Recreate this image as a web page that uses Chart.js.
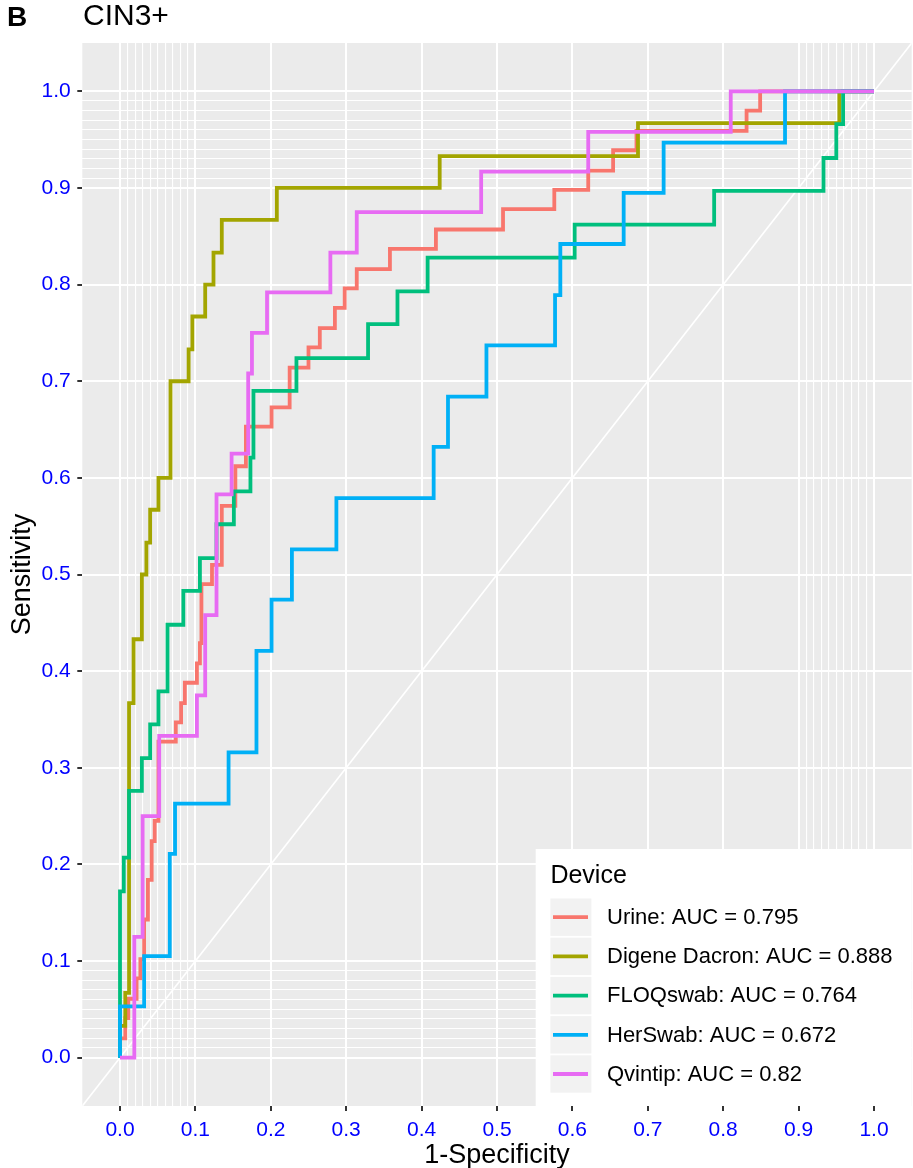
<!DOCTYPE html>
<html>
<head>
<meta charset="utf-8">
<title>CIN3+ ROC</title>
<script src="https://cdn.jsdelivr.net/npm/chart.js@4.4.1/dist/chart.umd.min.js"></script>
<style>
  html, body { margin: 0; padding: 0; background: #fff; }
  #roc { display: block; }
</style>
</head>
<body>
<canvas id="roc" width="913" height="1168"></canvas>
<script>
// axis breaks
const majorTicks = [0, 0.1, 0.2, 0.3, 0.4, 0.5, 0.6, 0.7, 0.8, 0.9, 1.0];
const minorTicks = [0.01, 0.02, 0.03, 0.04, 0.05, 0.06, 0.07, 0.08, 0.09,
                    0.91, 0.92, 0.93, 0.94, 0.95, 0.96, 0.97, 0.98, 0.99];

// legend
const deviceNames = ['Urine', 'Digene Dacron', 'FLOQswab', 'HerSwab', 'Qvintip'];
const aucValues = ['0.795', '0.888', '0.764', '0.672', '0.82'];
const deviceColors = ['#F8766D', '#A3A500', '#00BF7D', '#00B0F6', '#E76BF3'];

// ROC steps: each point = end of a horizontal run (vertical move first)
const urineFpr  = [0, 0.007, 0.011, 0.022, 0.027, 0.032, 0.037, 0.042, 0.046, 0.051, 0.074, 0.081, 0.086, 0.102, 0.106, 0.108, 0.122, 0.135, 0.153, 0.167, 0.201, 0.225, 0.250, 0.265, 0.285, 0.298, 0.314, 0.358, 0.419, 0.508, 0.576, 0.621, 0.654, 0.685, 0.831, 0.849, 1.0];
const urineSens = [0, 0.020, 0.041, 0.061, 0.082, 0.102, 0.143, 0.184, 0.224, 0.245, 0.327, 0.347, 0.367, 0.388, 0.408, 0.429, 0.490, 0.510, 0.571, 0.612, 0.653, 0.673, 0.714, 0.735, 0.755, 0.776, 0.796, 0.816, 0.837, 0.857, 0.878, 0.898, 0.918, 0.939, 0.959, 0.980, 1.0];

const digeneFpr  = [0, 0.007, 0.012, 0.018, 0.029, 0.035, 0.040, 0.051, 0.067, 0.091, 0.096, 0.113, 0.124, 0.135, 0.208, 0.424, 0.687, 0.954, 1.0];
const digeneSens = [0, 0.033, 0.067, 0.367, 0.433, 0.500, 0.533, 0.567, 0.600, 0.700, 0.733, 0.767, 0.800, 0.833, 0.867, 0.900, 0.933, 0.967, 1.0];

const floqFpr  = [0, 0.005, 0.012, 0.029, 0.040, 0.051, 0.063, 0.084, 0.106, 0.128, 0.151, 0.173, 0.177, 0.234, 0.329, 0.368, 0.408, 0.603, 0.788, 0.933, 0.950, 0.959, 1.0];
const floqSens = [0, 0.172, 0.207, 0.276, 0.310, 0.345, 0.379, 0.448, 0.483, 0.517, 0.552, 0.586, 0.621, 0.690, 0.724, 0.759, 0.793, 0.828, 0.862, 0.897, 0.931, 0.966, 1.0];

const herFpr  = [0, 0.032, 0.066, 0.073, 0.144, 0.181, 0.201, 0.228, 0.287, 0.416, 0.435, 0.486, 0.577, 0.584, 0.668, 0.721, 0.882, 1.0];
const herSens = [0, 0.053, 0.105, 0.211, 0.263, 0.316, 0.421, 0.474, 0.526, 0.579, 0.632, 0.684, 0.737, 0.789, 0.842, 0.895, 0.947, 1.0];

const qvintipFpr  = [0, 0.019, 0.030, 0.052, 0.102, 0.113, 0.128, 0.148, 0.170, 0.175, 0.195, 0.279, 0.314, 0.479, 0.621, 0.810, 1.0];
const qvintipSens = [0, 0, 0.125, 0.250, 0.333, 0.375, 0.458, 0.583, 0.625, 0.708, 0.750, 0.792, 0.833, 0.875, 0.917, 0.958, 1.0];

const seriesFpr  = [urineFpr, digeneFpr, floqFpr, herFpr, qvintipFpr];
const seriesSens = [urineSens, digeneSens, floqSens, herSens, qvintipSens];

const FONT = '"Liberation Sans", Arial, "DejaVu Sans", sans-serif';

const buildBreaks = (scale) => {
    const ticks = majorTicks.map(v => ({ value: v, isMajor: true }))
        .concat(minorTicks.map(v => ({ value: v, isMajor: false })));
    ticks.sort((a, b) => a.value - b.value);
    scale.ticks = ticks;
};

const axisOptions = (titleText, titlePadding) => ({
    type: 'linear',
    min: -0.05,
    max: 1.05,
    afterBuildTicks: buildBreaks,
    border: { display: false },
    grid: {
        color: '#FFFFFF',
        lineWidth: (ctx) => (ctx.tick && ctx.tick.isMajor ? 2 : 1.1),
        tickColor: (ctx) => (ctx.tick && ctx.tick.isMajor ? '#333333' : 'rgba(0,0,0,0)'),
        tickWidth: 2,
        tickLength: 5
    },
    ticks: {
        autoSkip: false,
        maxRotation: 0,
        color: '#0000FF',
        padding: 6.5,
        font: { family: FONT, size: 21 },
        callback: function (value, index, ticks) {
            return ticks[index].isMajor ? value.toFixed(1) : '';
        }
    },
    title: {
        display: true,
        text: titleText,
        color: '#000000',
        font: { family: FONT, size: 27 },
        padding: titlePadding
    }
});

// panel background + white figure background
const panelBackground = {
    id: 'panelBackground',
    beforeDraw(chart) {
        const { ctx, chartArea } = chart;
        ctx.save();
        ctx.fillStyle = '#FFFFFF';
        ctx.fillRect(0, 0, chart.width, chart.height);
        ctx.fillStyle = '#EBEBEB';
        ctx.fillRect(chartArea.left, chartArea.top, chartArea.right - chartArea.left, chartArea.bottom - chartArea.top);
        ctx.restore();
    }
};

// y = x reference line
const diagonalLine = {
    id: 'diagonalLine',
    beforeDatasetsDraw(chart) {
        const { ctx, chartArea, scales } = chart;
        const x = scales.x, y = scales.y;
        ctx.save();
        ctx.beginPath();
        ctx.rect(chartArea.left, chartArea.top, chartArea.right - chartArea.left, chartArea.bottom - chartArea.top);
        ctx.clip();
        ctx.strokeStyle = '#FFFFFF';
        ctx.lineWidth = 1.6;
        ctx.beginPath();
        ctx.moveTo(x.getPixelForValue(x.min), y.getPixelForValue(x.min));
        ctx.lineTo(x.getPixelForValue(x.max), y.getPixelForValue(x.max));
        ctx.stroke();
        ctx.restore();
    }
};

// ggplot-like inside legend and panel title
const figureText = {
    id: 'figureText',
    afterDraw(chart) {
        const { ctx, chartArea } = chart;
        ctx.save();

        ctx.fillStyle = '#000000';
        ctx.textBaseline = 'alphabetic';
        ctx.textAlign = 'left';
        ctx.font = 'bold 28px ' + FONT;
        ctx.fillText('B', 7, 26);
        ctx.font = '30px ' + FONT;
        ctx.fillText('CIN3+', 83, 25);

        const boxW = 376, boxH = 257;
        const left = chartArea.right - boxW;
        const top = chartArea.bottom - boxH;
        ctx.fillStyle = '#FFFFFF';
        ctx.fillRect(left, top, boxW, boxH);

        ctx.fillStyle = '#000000';
        ctx.font = '25px ' + FONT;
        ctx.fillText('Device', left + 14.7, top + 34);

        ctx.font = '22px ' + FONT;
        deviceNames.forEach((name, i) => {
            const keyTop = top + 49.5 + i * 39.2;
            ctx.fillStyle = '#F2F2F2';
            ctx.fillRect(left + 14.7, keyTop, 41, 37.4);
            ctx.strokeStyle = deviceColors[i];
            ctx.lineWidth = 3.8;
            ctx.beginPath();
            ctx.moveTo(left + 17.3, keyTop + 18.7);
            ctx.lineTo(left + 52.3, keyTop + 18.7);
            ctx.stroke();
            ctx.fillStyle = '#000000';
            ctx.textBaseline = 'middle';
            ctx.fillText(name + ': AUC = ' + aucValues[i], left + 71.3, keyTop + 19.5);
        });
        ctx.restore();
    }
};

const drawOrder = [4, 3, 2, 1, 0];

const datasets = deviceNames.map((name, i) => ({
    label: name + ': AUC = ' + aucValues[i],
    data: seriesFpr[i].map((fpr, k) => ({ x: fpr, y: seriesSens[i][k] })),
    borderColor: deviceColors[i],
    backgroundColor: deviceColors[i],
    borderWidth: 3.8,
    pointRadius: 0,
    pointHoverRadius: 0,
    stepped: 'after',
    fill: false,
    order: drawOrder[i]
}));

const canvas = document.getElementById('roc');
new Chart(canvas.getContext('2d'), {
    type: 'line',
    data: { datasets: datasets },
    options: {
        responsive: false,
        animation: false,
        devicePixelRatio: 1,
        layout: { padding: { left: 0, right: 1.3, top: 43, bottom: 0 } },
        plugins: {
            legend: { display: false },
            tooltip: { enabled: false }
        },
        scales: {
            x: Object.assign(axisOptions('1-Specificity', { top: 0, bottom: -4 }), {
                afterFit: (scale) => { scale.height = 62; }
            }),
            y: Object.assign(axisOptions('Sensitivity', { top: 6, bottom: 0 }), {
                afterFit: (scale) => { scale.width = 82.3; }
            })
        }
    },
    plugins: [panelBackground, diagonalLine, figureText]
});
</script>
</body>
</html>
